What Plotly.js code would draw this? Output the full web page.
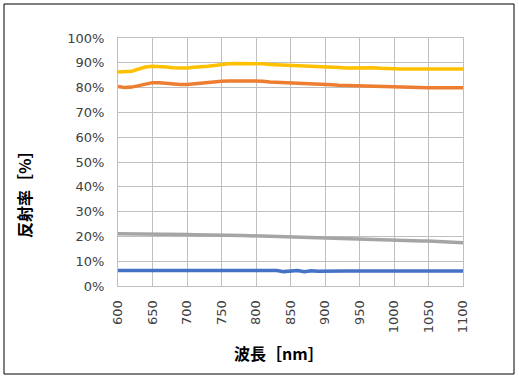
<!DOCTYPE html>
<html><head><meta charset="utf-8">
<script src="https://cdn.plot.ly/plotly-3.0.1.min.js"></script>
<style>html,body{margin:0;padding:0;background:#fff}#c{width:519px;height:378px}</style>
</head><body><div id="c"></div>
<script>
const wavelength = [600,610,620,630,640,650,660,670,680,690,700,710,720,730,740,750,760,770,780,790,800,810,820,830,840,850,860,870,880,890,900,910,920,930,940,950,960,970,980,990,1000,1010,1020,1030,1040,1050,1060,1070,1080,1090,1100];
const yellow = [86.3,86.3,86.6,87.5,88.3,88.6,88.6,88.3,88.0,87.8,87.9,88.2,88.3,88.6,88.9,89.4,89.6,89.7,89.7,89.7,89.7,89.6,89.3,89.2,89.1,89.1,89.0,88.8,88.7,88.6,88.5,88.3,88.1,87.9,87.9,88.1,88.2,88.0,87.8,87.6,87.5,87.5,87.5,87.5,87.5,87.5,87.5,87.5,87.5,87.5,87.5];
const orange = [80.5,80.0,80.2,80.8,81.6,82.0,82.0,81.7,81.6,81.3,81.3,81.6,81.8,82.0,82.4,82.6,82.7,82.7,82.7,82.7,82.7,82.6,82.3,82.2,82.1,82.0,81.9,81.7,81.6,81.5,81.4,81.1,80.9,80.8,80.7,80.6,80.6,80.5,80.5,80.4,80.3,80.1,80.0,79.9,79.9,79.9,79.9,79.9,79.9,79.9,79.9];
const gray = [21.1,21.1,21.0,21.0,21.0,21.0,20.9,20.8,20.8,20.8,20.8,20.7,20.7,20.6,20.5,20.5,20.5,20.4,20.4,20.3,20.2,20.0,19.9,19.8,19.7,19.6,19.5,19.5,19.4,19.3,19.2,19.1,19.0,19.0,18.9,18.8,18.7,18.6,18.5,18.5,18.4,18.3,18.3,18.2,18.1,18.1,18.0,17.9,17.8,17.6,17.4];
const blue = [6.3,6.3,6.3,6.3,6.3,6.3,6.3,6.3,6.3,6.3,6.3,6.3,6.3,6.3,6.3,6.3,6.3,6.3,6.3,6.3,6.3,6.3,6.3,6.2,5.8,5.9,6.2,5.8,6.1,5.9,6.0,6.0,6.0,6.0,6.0,6.0,6.0,6.0,6.0,6.0,6.0,6.0,6.0,6.0,6.0,6.0,6.0,6.0,6.0,6.0,6.0];
const xTicks = [600,650,700,750,800,850,900,950,1000,1050,1100];
const yTicks = [0,10,20,30,40,50,60,70,80,90,100];
const yTickText = yTicks.map(v => v + '%');

const mk = (y, c) => ({x: wavelength, y: y, type: 'scatter', mode: 'lines', line: {color: c, width: 3.5}, hoverinfo: 'skip'});
const data = [mk(yellow,'#FFC000'), mk(orange,'#ED7D31'), mk(gray,'#A5A5A5'), mk(blue,'#4472C4')];
const tickFont = {family: 'DejaVu Sans, sans-serif', size: 13, color: '#404040'};
const layout = {
  width: 519, height: 378,
  margin: {l: 118, r: 56, t: 38, b: 92},
  showlegend: false,
  paper_bgcolor: '#fff', plot_bgcolor: '#fff',
  xaxis: {range: [600,1100], tickvals: xTicks, ticktext: xTicks.map(String), tickangle: -90,
    showgrid: true, gridcolor: '#BFBFBF', gridwidth: 1, showline: true, linecolor: '#BFBFBF', mirror: true,
    ticks: '', ticklen: 0, ticklabelstandoff: 8, tickfont: tickFont, zeroline: false, fixedrange: true},
  yaxis: {range: [0,100], tickvals: yTicks, ticktext: yTickText,
    showgrid: true, gridcolor: '#BFBFBF', gridwidth: 1, showline: true, linecolor: '#BFBFBF', mirror: true,
    ticks: '', ticklabelstandoff: 10, tickfont: tickFont, zeroline: false, fixedrange: true},
  annotations: [
    {text: '<b>波長［nm］</b>', xref: 'paper', yref: 'paper', x: (279-118)/345, y: (286-353)/248,
     showarrow: false, xanchor: 'center', yanchor: 'middle', font: {family: 'Noto Sans CJK JP, sans-serif', size: 16, color: '#000'}},
    {text: '<b>反射率［%］</b>', xref: 'paper', yref: 'paper', x: (24-118)/345, y: (286-191)/248, textangle: -90,
     showarrow: false, xanchor: 'center', yanchor: 'middle', font: {family: 'Noto Sans CJK JP, sans-serif', size: 16, color: '#000'}}
  ],
  shapes: [{type: 'rect', xref: 'paper', yref: 'paper', x0: (4-118)/345, x1: (514-118)/345, y0: (286-374)/248, y1: (286-4)/248,
    line: {color: '#000', width: 1}, fillcolor: 'rgba(0,0,0,0)'}]
};
Plotly.newPlot('c', data, layout, {displayModeBar: false, staticPlot: true});
</script></body></html>
